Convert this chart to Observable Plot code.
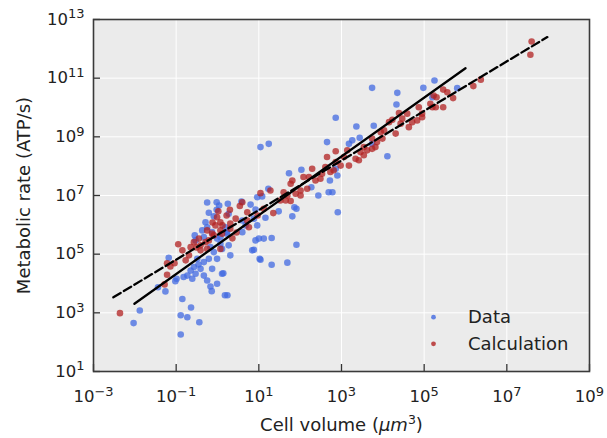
<!DOCTYPE html>
<html>
<head>
<meta charset="utf-8">
<script src="https://cdn.jsdelivr.net/npm/d3@7"></script>
<script src="https://cdn.jsdelivr.net/npm/@observablehq/plot@0.6"></script>
<style>
  html, body { margin: 0; padding: 0; background: #fff; }
  #chart { width: 607px; height: 438px; }
</style>
</head>
<body>
<div id="chart"></div>
<script>
// ---- Data (log10 values) ----
const dataLogVolume = [
  -2.03,-1.88,-0.89,-0.85,-0.89,-0.73,-0.64,-0.44,-1.26,-1.44,-1.02,-0.99,-1.18,0.18,0.24,0.14,-0.14,-0.17,
  -0.55,-0.37,-0.13,0.07,0.23,0.27,0.11,-0.09,-0.01,0.31,-0.21,-0.33,-0.41,-0.57,-0.65,-0.53,-0.73,-0.82,-0.61,
  -0.33,-0.25,-0.01,0.11,0.92,1.02,0.84,-0.13,-0.49,-0.46,-0.02,0.04,0.25,-0.02,-0.21,-0.09,0.27,-0.29,-0.25,
  -0.33,-0.53,0.19,0.23,-0.01,0.07,-0.17,0.58,0.80,-0.25,0.60,0.96,1.04,1.24,2.65,1.73,2.03,1.23,0.96,1.08,
  0.92,0.88,0.68,0.60,1.16,1.48,1.86,1.91,1.81,2.27,2.44,2.69,2.78,2.72,2.90,2.91,1.00,1.12,1.31,0.88,1.91,
  1.04,1.31,1.69,3.74,4.35,4.33,4.98,2.86,3.36,3.78,3.26,3.44,3.18,3.74,4.11,2.86,5.25,5.80,5.20
];
const dataLogRate = [
  2.65,3.08,2.26,3.47,2.92,2.85,3.18,2.68,3.73,3.87,4.08,4.16,4.88,3.60,3.60,4.35,3.74,3.90,
  5.64,5.81,5.75,5.58,5.75,5.30,5.18,5.07,4.84,4.96,4.84,4.73,4.50,4.56,4.44,4.33,4.27,4.22,4.16,
  4.27,4.10,3.99,4.33,5.47,4.84,5.13,4.50,4.84,4.65,6.77,6.66,6.72,6.51,6.41,6.29,6.38,6.09,5.92,
  5.58,5.47,5.92,5.70,5.53,5.35,5.24,6.79,6.69,6.76,6.15,5.98,8.65,8.76,8.82,7.76,7.88,7.23,6.94,6.97,
  6.52,6.21,5.98,5.75,6.24,6.46,6.60,6.55,6.29,7.28,7.00,7.11,7.11,7.51,7.68,6.43,5.53,5.53,5.55,5.15,5.32,
  4.81,4.64,4.71,10.67,10.50,10.10,10.67,9.65,9.35,9.38,8.88,8.97,8.76,8.76,8.34,7.91,10.92,10.66,10.35
];
const calcLogVolume = [
  -2.36,-1.28,-1.22,-1.22,-1.14,-1.04,-0.95,-0.85,-0.65,-0.69,-0.77,-0.57,-0.45,-0.21,-0.09,0.07,-0.25,-0.41,
  0.07,0.31,0.76,0.54,0.60,0.30,-0.01,0.07,-0.05,0.44,0.72,-0.25,-0.13,-0.29,-0.41,0.11,0.31,0.22,0.12,-0.12,
  0.02,0.36,0.46,-0.51,1.35,1.04,1.60,1.77,1.81,1.69,1.65,1.77,1.89,2.01,2.01,2.17,2.29,2.21,2.37,2.53,2.61,
  2.65,2.86,2.73,2.81,2.49,2.08,1.52,0.72,0.97,1.12,1.28,3.14,3.06,2.86,2.98,3.18,3.34,3.46,3.54,3.62,3.74,
  3.82,3.86,3.99,3.95,4.03,4.15,4.23,4.31,4.43,4.47,4.59,4.63,4.71,4.83,4.87,4.95,4.39,3.54,3.42,3.74,5.46,
  5.56,5.70,6.19,6.37,7.57,7.60,5.23,5.30,5.15,5.20,5.28,5.46,4.95
];
const calcLogRate = [
  2.99,3.97,4.30,4.69,4.58,4.69,5.34,5.13,5.24,4.96,4.79,5.41,5.53,5.47,5.64,5.81,5.18,5.13,
  5.18,5.87,5.92,6.64,6.77,6.51,6.26,6.09,5.98,6.21,6.43,5.81,5.70,5.41,5.30,5.70,6.04,6.32,5.98,6.08,
  6.46,5.54,5.74,5.23,6.40,7.08,7.11,7.40,7.51,7.00,6.83,6.81,7.06,7.17,7.00,7.23,7.91,7.63,7.51,7.74,7.97,
  8.31,8.51,7.80,7.86,7.57,7.63,6.83,6.15,6.32,6.55,7.17,8.54,8.31,8.14,8.02,8.02,8.25,8.48,8.65,8.54,8.59,
  8.65,8.82,8.94,9.16,9.22,9.50,9.58,9.11,9.45,9.62,9.79,9.33,9.50,9.56,10.01,9.79,9.81,8.37,8.20,8.94,10.61,
  10.52,10.32,10.73,10.95,11.80,12.25,10.41,10.35,10.13,10.01,10.01,10.01,9.67
];
// Fitted lines (endpoints, log10)
const fitSolidLogX = [-2.01, 6.00];
const fitSolidLogY = [3.31, 11.34];
const fitDashedLogX = [-2.52, 7.98];
const fitDashedLogY = [3.53, 12.40];

const xTicks = [1e-3, 1e-1, 1e1, 1e3, 1e5, 1e7, 1e9];
const yTicks = [1e1, 1e3, 1e5, 1e7, 1e9, 1e11, 1e13];
const legendLabels = ["Data", "Calculation"];
const seriesColors = ["#4169e1", "#b22222"];
const xTitle = "Cell volume (μm3)";
const yTitle = "Metabolic rate (ATP/s)";

// ---- Build tables ----
const toPoints = (lx, ly) => lx.map((v, i) => ({x: Math.pow(10, v), y: Math.pow(10, ly[i])}));
const dataPts = toPoints(dataLogVolume, dataLogRate);
const calcPts = toPoints(calcLogVolume, calcLogRate);
const solidFit = toPoints(fitSolidLogX, fitSolidLogY);
const dashedFit = toPoints(fitDashedLogX, fitDashedLogY);

const expFmt = d => "10^" + String(Math.round(Math.log10(d))).replace("-", "\u2212");

const W = 607, H = 438, mL = 93, mR = 18, mT = 19, mB = 67;
const plotW = W - mL - mR, plotH = H - mT - mB;

const legendMarks = legendLabels.flatMap((lab, i) => [
  Plot.dot([lab], {frameAnchor: "bottom-right", dx: -156, dy: -54.3 + i * 26.6, r: 2.4, fill: seriesColors[i], fillOpacity: 0.8}),
  Plot.text([lab], {frameAnchor: "bottom-right", dx: -121.5, dy: -54.3 + i * 26.6, text: d => d, textAnchor: "start", lineAnchor: "middle", fontSize: 18, fill: "#222"})
]);

const chart = Plot.plot({
  width: W, height: H,
  marginLeft: mL, marginRight: mR, marginTop: mT, marginBottom: mB,
  style: {fontFamily: "'DejaVu Sans', sans-serif", background: "#fff", color: "#222"},
  x: {type: "log", domain: [1e-3, 1e9]},
  y: {type: "log", domain: [1e1, 1e13]},
  marks: [
    Plot.frame({fill: "#ebebeb", stroke: "none"}),
    Plot.gridX(xTicks, {stroke: "#fff", strokeOpacity: 1, strokeWidth: 1}),
    Plot.gridY(yTicks, {stroke: "#fff", strokeOpacity: 1, strokeWidth: 1}),
    Plot.dot(dataPts, {x: "x", y: "y", r: 3.3, fill: seriesColors[0], fillOpacity: 0.75, stroke: "none"}),
    Plot.dot(calcPts, {x: "x", y: "y", r: 3.3, fill: seriesColors[1], fillOpacity: 0.75, stroke: "none"}),
    Plot.line(solidFit, {x: "x", y: "y", stroke: "#000", strokeWidth: 2.3}),
    Plot.line(dashedFit, {x: "x", y: "y", stroke: "#000", strokeWidth: 2.3, strokeDasharray: "8.5,3.7"}),
    ...legendMarks,
    Plot.tickX(xTicks, {x: d => d, stroke: "#333", strokeWidth: 1.3, insetTop: plotH - 7}),
    Plot.tickY(yTicks, {y: d => d, stroke: "#333", strokeWidth: 1.3, insetRight: plotW - 7}),
    Plot.frame({stroke: "#3a3a3a", strokeWidth: 1.6}),
    Plot.axisX(xTicks, {tickSize: 0, tickPadding: 19, tickFormat: expFmt, fontSize: 16.5, label: null}),
    Plot.axisY(yTicks, {tickSize: 0, tickPadding: 9, tickFormat: expFmt, fontSize: 16.5, label: null}),
    Plot.text([xTitle], {frameAnchor: "bottom", dy: 54, text: d => d, textAnchor: "middle", lineAnchor: "middle", fontSize: 18, fill: "#222"}),
    Plot.text([yTitle], {frameAnchor: "left", dx: -69, rotate: -90, text: d => d, textAnchor: "middle", lineAnchor: "middle", fontSize: 18, fill: "#222"})
  ]
});

document.getElementById("chart").appendChild(chart);

// ---- Rich text: superscripts for tick labels and axis title ----
const NS = "http://www.w3.org/2000/svg";
chart.querySelectorAll("text").forEach(t => {
  const s = t.textContent;
  if (/^10\^/.test(s)) {
    const exp = s.split("^")[1];
    t.textContent = "";
    const a = document.createElementNS(NS, "tspan");
    a.textContent = "10";
    const b = document.createElementNS(NS, "tspan");
    b.textContent = exp;
    b.setAttribute("font-size", "13");
    b.setAttribute("dy", "-6.6");
    t.appendChild(a); t.appendChild(b);
  } else if (s === xTitle) {
    t.textContent = "";
    const parts = [
      {txt: "Cell volume (", attrs: {}},
      {txt: "μm", attrs: {"font-style": "italic"}},
      {txt: "3", attrs: {"font-size": "12.5", "dy": "-7"}},
      {txt: ")", attrs: {"dy": "7"}}
    ];
    parts.forEach(p => {
      const ts = document.createElementNS(NS, "tspan");
      ts.textContent = p.txt;
      Object.entries(p.attrs).forEach(([k, v]) => ts.setAttribute(k, v));
      t.appendChild(ts);
    });
  }
});
</script>
</body>
</html>
